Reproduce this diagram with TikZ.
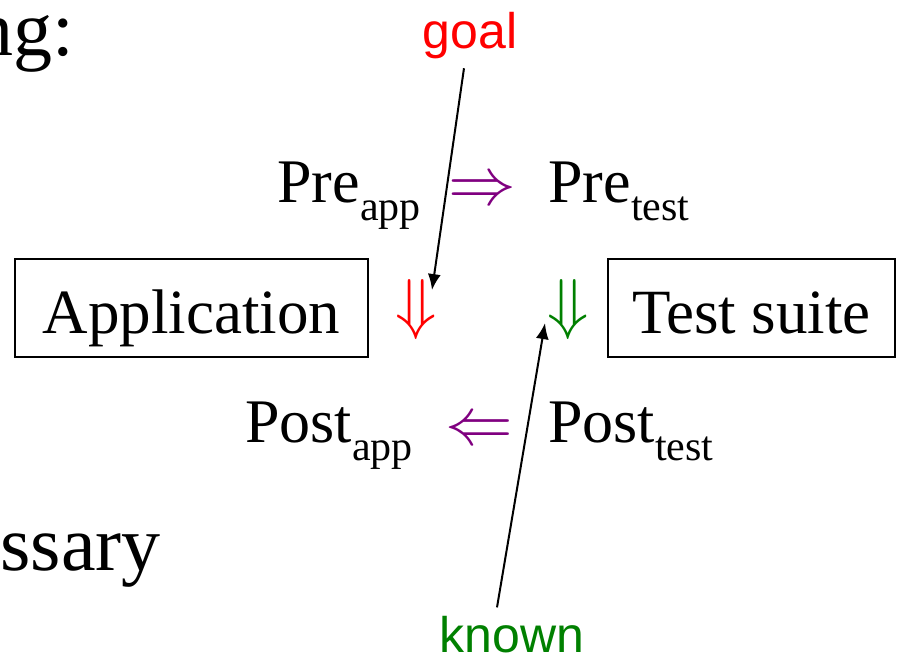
\documentclass[tikz,border=0pt]{standalone}
\usepackage{graphicx}
\usepackage{fontspec}
\setmainfont{Liberation Serif}
\newfontfamily\labelfont{Liberation Sans}
\usetikzlibrary{arrows.meta}

\definecolor{implpurple}{RGB}{128,0,128}
\definecolor{knowngreen}{RGB}{0,128,0}

\tikzstyle{slide} = [inner sep=0pt, font=\fontsize{39}{47}\selectfont]
\tikzstyle{cond} = [inner sep=0pt, font=\fontsize{31}{37}\selectfont]
\tikzstyle{implies} = [inner sep=0pt, font=\fontsize{25}{30}\selectfont]
\tikzstyle{module} = [draw=black, line width=0.75pt, inner sep=0pt,
text height=37pt, text depth=12pt,
font=\fontsize{31.5}{37}\selectfont]
\tikzstyle{remark} = [inner sep=0pt, font=\labelfont\fontsize{25}{30}\selectfont]
\tikzstyle{pointer} = [line width=1pt, -{Latex[length=8pt,width=6.5pt]}]

\newcommand{\condsub}[2]{#1\raisebox{-9pt}{\fontsize{21}{25}\selectfont #2}}
\newcommand{\bigsym}[1]{\scalebox{1.36}{$#1$}}

\begin{document}
\begin{tikzpicture}[x=0.5pt, y=-0.5pt]

\useasboundingbox (0,0) rectangle (901,659);

\node (ng) [slide, anchor=base east] at (75,55) {ng:};
\node (ssary) [slide, anchor=base west] at (0,570) {ssary};

\node (goal) [remark, text=red, anchor=base] at (470,48) {goal};
\node (known) [remark, text=knowngreen, anchor=base] at (512,652) {known};

\node (preapp) [cond, anchor=base west] at (277,202) {\condsub{Pre}{app}};
\node (pretest) [cond, anchor=base west] at (548,202) {\condsub{Pre}{test}};
\node (postapp) [cond, anchor=base west] at (245,442) {\condsub{Post}{app}};
\node (posttest) [cond, anchor=base west] at (548,442) {\condsub{Post}{test}};

\node (impre) [implies, text=implpurple, anchor=base] at (482,204) {\bigsym{\Rightarrow}};
\node (impost) [implies, text=implpurple, anchor=base] at (479,444) {\bigsym{\Leftarrow}};
\node (downapp) [implies, text=red, anchor=base] at (416,326) {\bigsym{\Downarrow}};
\node (downtest) [implies, text=knowngreen, anchor=base] at (568,326) {\bigsym{\Downarrow}};

\node (app) [module, minimum width=176.5pt, anchor=base] at (191.5,333) {Application};
\node (suite) [module, minimum width=143.5pt, anchor=base] at (751.5,333) {Test suite};

\draw [pointer] ([xshift=-3pt,yshift=-4.75pt]goal.south) -- ([xshift=8pt,yshift=9.5pt]downapp.center);
\draw [pointer] ([xshift=-7.5pt,yshift=4pt]known.north) -- ([xshift=-11.5pt,yshift=-7pt]downtest.center);

\end{tikzpicture}
\end{document}
